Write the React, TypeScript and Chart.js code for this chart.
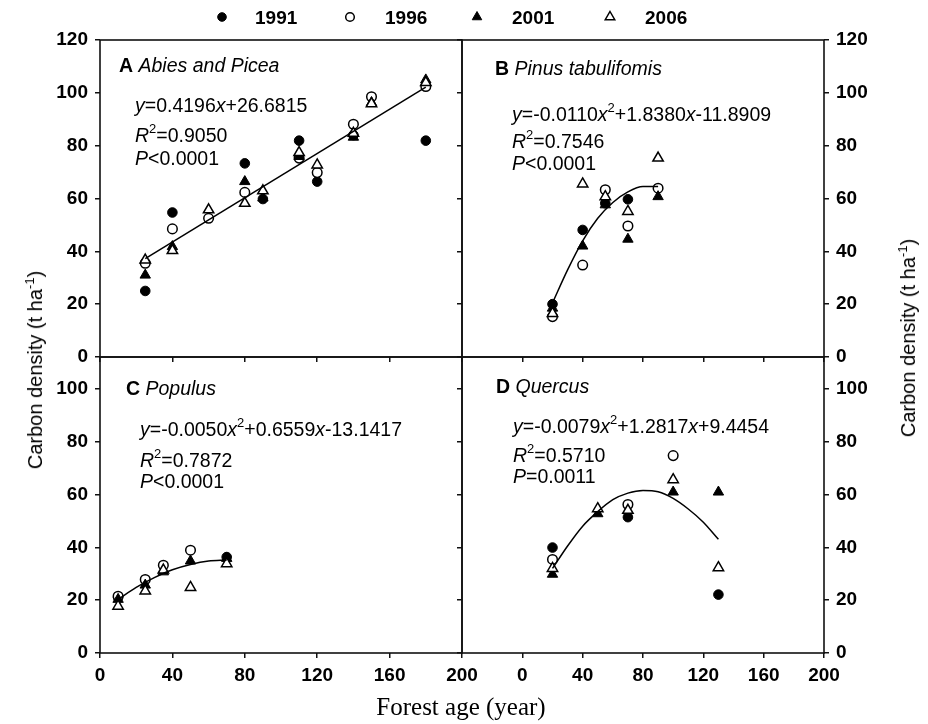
import React, { useEffect, useRef } from "react";
import { Chart, registerables } from "chart.js";
Chart.register(...registerables);

// ---------- data ----------
const years = ["1991", "1996", "2001", "2006"];
const xTickVals = [0, 40, 80, 120, 160, 200];
const yTicksTop = [0, 20, 40, 60, 80, 100, 120];
const yTicksBottom = [0, 20, 40, 60, 80, 100];

// A  Abies and Picea (null = not visible in the figure)
const ageA = [25, 40, 60, 80, 90, 110, 120, 140, 150, 180];
const a1991 = [25, 54.7, null, 73.3, 59.8, 81.9, 66.4, 84, null, 81.9];
const a1996 = [35.5, 48.5, 52.5, 62.3, null, 75.3, 69.8, 88.1, 98.5, 102.4];
const a2001 = [31, 41.8, null, 66.4, 60.2, 75.9, null, 83.2, 96.3, 104.9];
const a2006 = [36.7, 40.3, 55.7, 58.2, 62.9, 77.4, 72.7, 84.7, 95.9, 103.9];
const fitAx = [25, 180];
const fitAy = [37.2, 102.2];

// B  Pinus tabulifomis
const ageB = [20, 40, 55, 70, 90];
const b1991 = [20, 48.1, 58.2, 59.7, null];
const b1996 = [15.3, 34.8, 63.3, 49.6, 63.9];
const b2001 = [18.5, 42, 57.6, 44.6, 60.7];
const b2006 = [16.5, 65.5, 60.7, 55.1, 75.3];
const fitBx = [20, 30, 40, 50, 60, 70, 80, 90];
const fitBy = [20.5, 33, 44, 52.5, 58.5, 62.5, 64.5, 64.5];

// C  Populus
const ageC = [10, 25, 35, 50, 70];
const c1991 = [21, null, null, null, 36.3];
const c1996 = [21.5, 27.8, 33.2, 38.9, null];
const c2001 = [20.3, 25.7, 30.7, 34.8, 35.8];
const c2006 = [17.7, 23.5, 31.4, 24.8, 33.8];
const fitCx = [10, 20, 30, 40, 50, 60, 70];
const fitCy = [20.3, 24.8, 28.5, 31.5, 33.5, 34.8, 35.2];

// D  Quercus
const ageD = [20, 50, 70, 100, 130];
const d1991 = [39.9, null, 51.4, null, 22.1];
const d1996 = [35.4, null, 56.2, 74.7, null];
const d2001 = [29.8, 52.7, null, 60.9, 60.9];
const d2006 = [32, 54.6, 54, 65.6, 32.3];
const fitDx = [20, 30, 40, 50, 60, 70, 80, 90, 100, 110, 120, 130];
const fitDy = [32, 40.5, 48, 53.5, 58, 60.5, 61.5, 61, 58.5, 54.5, 49.5, 43];

// ---------- styling ----------
const SANS = '"Liberation Sans", Arial, Helvetica, sans-serif';
const SERIF = '"Liberation Serif", "Times New Roman", serif';

const markerStyles = [
  { pointStyle: "circle", backgroundColor: "#000", borderColor: "#000", pointRadius: 4.8, borderWidth: 1 },
  { pointStyle: "circle", backgroundColor: "#fff", borderColor: "#000", pointRadius: 4.8, borderWidth: 1.5 },
  { pointStyle: "triangle", backgroundColor: "#000", borderColor: "#000", pointRadius: 6, borderWidth: 1 },
  { pointStyle: "triangle", backgroundColor: "#fff", borderColor: "#000", pointRadius: 6, borderWidth: 1.5 },
];

type Seg = { t: string; it?: boolean; b?: boolean; sup?: boolean };
type Line = { dx: number; dy: number; segs: Seg[] };

function drawRich(ctx: CanvasRenderingContext2D, x: number, y: number, segs: Seg[], size: number) {
  let cx = x;
  for (const s of segs) {
    const fs = s.sup ? Math.round(size * 0.68) : size;
    ctx.font = `${s.it ? "italic " : ""}${s.b ? "bold " : ""}${fs}px ${SANS}`;
    ctx.fillText(s.t, cx, s.sup ? y - size * 0.45 : y);
    cx += ctx.measureText(s.t).width;
  }
}

function annotPlugin(lines: Line[]) {
  return {
    id: "annot",
    afterDraw(chart: any) {
      const { ctx, chartArea } = chart;
      ctx.save();
      ctx.strokeStyle = "#111";
      ctx.lineWidth = 1.6;
      ctx.strokeRect(chartArea.left, chartArea.top, chartArea.right - chartArea.left, chartArea.bottom - chartArea.top);
      ctx.fillStyle = "#000";
      ctx.textBaseline = "alphabetic";
      ctx.textAlign = "left";
      for (const ln of lines) {
        drawRich(ctx, chartArea.left + ln.dx, chartArea.top + ln.dy, ln.segs, 19.5);
      }
      ctx.restore();
    },
  };
}

type Panel = {
  left: number; top: number; width: number; height: number;
  pad: { top: number; right: number; left: number; bottom: number };
  xMin: number; showXLabels: boolean; xAxisH: number;
  yMax: number; yTicks: number[]; leftW: number; leftLabels: boolean; rightW: number;
  ages: number[]; series: (number | null)[][]; fitX: number[]; fitY: number[];
  lines: Line[];
};

const tickFont = { family: SANS, size: 19, weight: "bold" as const };

function buildConfig(p: Panel): any {
  const datasets: any[] = [
    {
      label: "fit",
      data: p.fitX.map((x, i) => ({ x, y: p.fitY[i] })),
      showLine: true,
      pointRadius: 0,
      borderColor: "#000",
      borderWidth: 1.5,
      cubicInterpolationMode: "monotone",
      fill: false,
    },
  ];
  // later years listed first so they are drawn on top of earlier years
  for (let si = p.series.length - 1; si >= 0; si--) {
    const vals = p.series[si];
    datasets.push({
      label: years[si],
      data: p.ages.map((a, i) => ({ x: a, y: vals[i] })),
      ...markerStyles[si],
    });
  }
  const gridCfg = { drawOnChartArea: false, drawTicks: true, tickLength: 5, color: "#111", lineWidth: 1.5 };
  const scales: any = {
    x: {
      type: "linear",
      min: p.xMin,
      max: 200,
      afterBuildTicks: (ax: any) => { ax.ticks = xTickVals.map((v) => ({ value: v })); },
      ticks: { display: p.showXLabels, font: tickFont, color: "#000", padding: 6, maxRotation: 0 },
      grid: gridCfg,
      border: { display: false },
      afterFit: (s: any) => { s.height = p.xAxisH; },
    },
    y: {
      type: "linear",
      position: "left",
      min: 0,
      max: p.yMax,
      afterBuildTicks: (ax: any) => { ax.ticks = p.yTicks.map((v) => ({ value: v })); },
      ticks: { display: p.leftLabels, font: tickFont, color: "#000", padding: 7 },
      grid: gridCfg,
      border: { display: false },
      afterFit: (s: any) => { s.width = p.leftW; },
    },
  };
  if (p.rightW > 0) {
    scales.y2 = {
      axis: "y",
      type: "linear",
      position: "right",
      min: 0,
      max: p.yMax,
      afterBuildTicks: (ax: any) => { ax.ticks = p.yTicks.map((v) => ({ value: v })); },
      ticks: { display: true, font: tickFont, color: "#000", padding: 7 },
      grid: gridCfg,
      border: { display: false },
      afterFit: (s: any) => { s.width = p.rightW; },
    };
  }
  return {
    type: "scatter",
    data: { datasets },
    options: {
      responsive: false,
      animation: false,
      events: [],
      layout: { padding: p.pad },
      plugins: { legend: { display: false }, tooltip: { enabled: false } },
      scales,
    },
    plugins: [annotPlugin(p.lines)],
  };
}

const panels: Panel[] = [
  {
    left: 0, top: 0, width: 490, height: 400,
    pad: { top: 40, right: 28, left: 0, bottom: 0 },
    xMin: 0, showXLabels: false, xAxisH: 43,
    yMax: 120, yTicks: yTicksTop, leftW: 100, leftLabels: true, rightW: 0,
    ages: ageA, series: [a1991, a1996, a2001, a2006], fitX: fitAx, fitY: fitAy,
    lines: [
      { dx: 19, dy: 32, segs: [{ t: "A", b: true }, { t: " " }, { t: "Abies and Picea", it: true }] },
      { dx: 35, dy: 72, segs: [{ t: "y", it: true }, { t: "=0.4196" }, { t: "x", it: true }, { t: "+26.6815" }] },
      { dx: 35, dy: 102, segs: [{ t: "R", it: true }, { t: "2", sup: true }, { t: "=0.9050" }] },
      { dx: 35, dy: 125, segs: [{ t: "P", it: true }, { t: "<0.0001" }] },
    ],
  },
  {
    left: 430, top: 0, width: 498, height: 400,
    pad: { top: 40, right: 0, left: 0, bottom: 0 },
    xMin: -40, showXLabels: false, xAxisH: 43,
    yMax: 120, yTicks: yTicksTop, leftW: 32, leftLabels: false, rightW: 104,
    ages: ageB, series: [b1991, b1996, b2001, b2006], fitX: fitBx, fitY: fitBy,
    lines: [
      { dx: 33, dy: 35, segs: [{ t: "B", b: true }, { t: " " }, { t: "Pinus tabulifomis", it: true }] },
      { dx: 50, dy: 81, segs: [{ t: "y", it: true }, { t: "=-0.0110" }, { t: "x", it: true }, { t: "2", sup: true }, { t: "+1.8380" }, { t: "x", it: true }, { t: "-11.8909" }] },
      { dx: 50, dy: 108, segs: [{ t: "R", it: true }, { t: "2", sup: true }, { t: "=0.7546" }] },
      { dx: 50, dy: 130, segs: [{ t: "P", it: true }, { t: "<0.0001" }] },
    ],
  },
  {
    left: 0, top: 317, width: 490, height: 407,
    pad: { top: 40, right: 28, left: 0, bottom: 0 },
    xMin: 0, showXLabels: true, xAxisH: 71,
    yMax: 112, yTicks: yTicksBottom, leftW: 100, leftLabels: true, rightW: 0,
    ages: ageC, series: [c1991, c1996, c2001, c2006], fitX: fitCx, fitY: fitCy,
    lines: [
      { dx: 26, dy: 38, segs: [{ t: "C", b: true }, { t: " " }, { t: "Populus", it: true }] },
      { dx: 40, dy: 79, segs: [{ t: "y", it: true }, { t: "=-0.0050" }, { t: "x", it: true }, { t: "2", sup: true }, { t: "+0.6559" }, { t: "x", it: true }, { t: "-13.1417" }] },
      { dx: 40, dy: 110, segs: [{ t: "R", it: true }, { t: "2", sup: true }, { t: "=0.7872" }] },
      { dx: 40, dy: 131, segs: [{ t: "P", it: true }, { t: "<0.0001" }] },
    ],
  },
  {
    left: 430, top: 317, width: 498, height: 407,
    pad: { top: 40, right: 0, left: 0, bottom: 0 },
    xMin: -40, showXLabels: true, xAxisH: 71,
    yMax: 112, yTicks: yTicksBottom, leftW: 32, leftLabels: false, rightW: 104,
    ages: ageD, series: [d1991, d1996, d2001, d2006], fitX: fitDx, fitY: fitDy,
    lines: [
      { dx: 34, dy: 36, segs: [{ t: "D", b: true }, { t: " " }, { t: "Quercus", it: true }] },
      { dx: 51, dy: 76, segs: [{ t: "y", it: true }, { t: "=-0.0079" }, { t: "x", it: true }, { t: "2", sup: true }, { t: "+1.2817" }, { t: "x", it: true }, { t: "+9.4454" }] },
      { dx: 51, dy: 105, segs: [{ t: "R", it: true }, { t: "2", sup: true }, { t: "=0.5710" }] },
      { dx: 51, dy: 126, segs: [{ t: "P", it: true }, { t: "=0.0011" }] },
    ],
  },
];

function PanelChart({ p }: { p: Panel }) {
  const ref = useRef<HTMLCanvasElement | null>(null);
  useEffect(() => {
    if (!ref.current) return;
    const chart = new Chart(ref.current, buildConfig(p));
    return () => chart.destroy();
  }, [p]);
  return (
    <canvas
      ref={ref}
      width={p.width}
      height={p.height}
      style={{ position: "absolute", left: p.left, top: p.top, width: p.width, height: p.height }}
    />
  );
}

const legendPos = [
  { mx: 222, tx: 255 },
  { mx: 350, tx: 385 },
  { mx: 477, tx: 512 },
  { mx: 610, tx: 645 },
];

function Marker({ i }: { i: number }) {
  const filled = i % 2 === 0;
  const tri = i >= 2;
  return (
    <svg width={14} height={14} viewBox="-7 -7 14 14" style={{ display: "block" }}>
      {tri ? (
        <polygon points="0,-5.5 4.76,2.75 -4.76,2.75" fill={filled ? "#000" : "#fff"} stroke="#000" strokeWidth={filled ? 1 : 1.5} />
      ) : (
        <circle cx={0} cy={0} r={4.3} fill={filled ? "#000" : "#fff"} stroke="#000" strokeWidth={filled ? 1 : 1.5} />
      )}
    </svg>
  );
}

const titleStyle: React.CSSProperties = {
  position: "absolute",
  transform: "translate(-50%, -50%) rotate(-90deg)",
  whiteSpace: "nowrap",
  font: `20px ${SANS}`,
  color: "#000",
  lineHeight: "22px",
};

export default function App() {
  return (
    <div style={{ position: "absolute", left: 0, top: 0, width: 928, height: 724, background: "#fff", overflow: "hidden" }}>
      {panels.map((p, i) => (
        <PanelChart key={i} p={p} />
      ))}
      {years.map((y, i) => (
        <React.Fragment key={y}>
          <div style={{ position: "absolute", left: legendPos[i].mx - 7, top: 10 }}>
            <Marker i={i} />
          </div>
          <div style={{ position: "absolute", left: legendPos[i].tx, top: 8, font: `bold 19px ${SANS}`, lineHeight: "19px", color: "#000" }}>
            {y}
          </div>
        </React.Fragment>
      ))}
      <div style={{ ...titleStyle, left: 35, top: 370 }}>
        Carbon density (t ha<sup style={{ fontSize: "13px", lineHeight: 0 }}>-1</sup>)
      </div>
      <div style={{ ...titleStyle, left: 908, top: 338 }}>
        Carbon density (t ha<sup style={{ fontSize: "13px", lineHeight: 0 }}>-1</sup>)
      </div>
      <div
        style={{
          position: "absolute", left: 461, top: 694, transform: "translateX(-50%)",
          whiteSpace: "nowrap", font: `25px ${SERIF}`, lineHeight: "25px", color: "#000",
        }}
      >
        Forest age (year)
      </div>
    </div>
  );
}
